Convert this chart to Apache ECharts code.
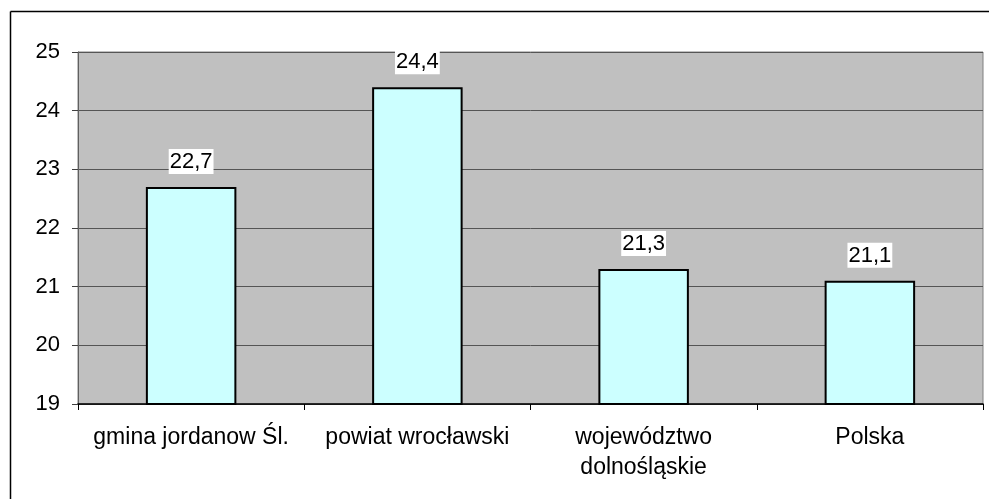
<!DOCTYPE html>
<html>
<head>
<meta charset="utf-8">
<script src="https://cdn.jsdelivr.net/npm/echarts@6/dist/echarts.min.js"></script>
<style>
  html, body { margin: 0; padding: 0; background: #fff; }
  #chart { width: 989px; height: 499px; }
</style>
</head>
<body>
<div id="chart"></div>
<script>
const categories = ['gmina jordanow Śl.', 'powiat wrocławski', 'województwo\ndolnośląskie', 'Polska'];
const values = [22.7, 24.4, 21.3, 21.1];
const yMin = 19;
const yMax = 25;

const chart = echarts.init(document.getElementById('chart'));
const font = 'Liberation Sans, Arial, sans-serif';

chart.setOption({
  animation: false,
  backgroundColor: '#fff',
  textStyle: { fontFamily: font },
  // outer frame (left and top edges only, the rest is cut off)
  graphic: [
    { type: 'line', shape: { x1: 10.5, y1: 11.5, x2: 989, y2: 11.5 }, style: { stroke: '#000', lineWidth: 1.5 } },
    { type: 'line', shape: { x1: 10.5, y1: 11.5, x2: 10.5, y2: 499 }, style: { stroke: '#000', lineWidth: 1.5 } }
  ],
  grid: {
    left: 78,
    right: 6,
    top: 52,
    bottom: 95,
    show: true,
    backgroundColor: '#C0C0C0',
    borderColor: '#808080',
    borderWidth: 1
  },
  xAxis: {
    type: 'category',
    data: categories,
    boundaryGap: true,
    axisLine: { lineStyle: { color: '#000', width: 1.5 } },
    axisTick: { show: true, length: 6, lineStyle: { color: '#000' } },
    axisLabel: {
      color: '#000',
      fontSize: 23,
      fontFamily: font,
      margin: 19,
      lineHeight: 30,
      interval: 0
    }
  },
  yAxis: {
    type: 'value',
    min: yMin,
    max: yMax,
    interval: 1,
    axisLine: { show: true, lineStyle: { color: '#606060' } },
    axisTick: { show: true, length: 6, lineStyle: { color: '#404040' } },
    axisLabel: { color: '#000', fontSize: 22, fontFamily: font, margin: 18 },
    splitLine: { show: true, lineStyle: { color: '#555', width: 1 } }
  },
  series: [
    {
      type: 'bar',
      data: values,
      barWidth: '40%',
      itemStyle: { color: '#CCFFFF', borderColor: '#000', borderWidth: 2 },
      label: {
        show: true,
        position: 'top',
        distance: 13,
        color: '#000',
        fontSize: 22,
        fontFamily: font,
        backgroundColor: '#fff',
        padding: [2, 1, 1, 1],
        formatter: p => String(p.value).replace('.', ',')
      }
    }
  ]
});
</script>
</body>
</html>
